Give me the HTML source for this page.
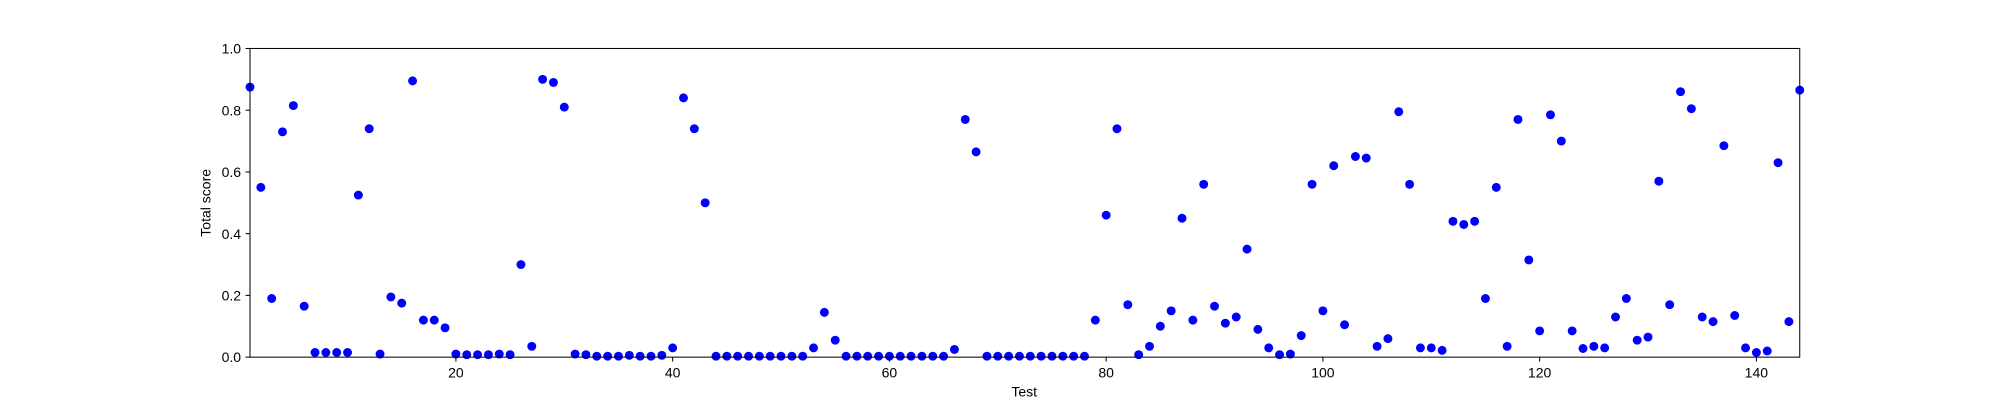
<!DOCTYPE html>
<html><head><meta charset="utf-8">
<style>
html,body{margin:0;padding:0;background:#fff;}
svg{display:block;font-family:"Liberation Sans","DejaVu Sans",sans-serif;}
</style></head>
<body>
<svg id="chart" width="2000" height="400" viewBox="0 0 1568 313.6" preserveAspectRatio="none" xmlns="http://www.w3.org/2000/svg">
<rect x="0" y="0" width="1568" height="313.6" fill="#fff"/>
<g id="points"></g>
<rect x="196" y="38" width="1215" height="242" fill="none" stroke="#000" stroke-width="0.8"/>
<g id="ticks"></g>
<text x="803" y="311" font-size="11" text-anchor="middle">Test</text>
<text x="165" y="159" font-size="11" text-anchor="middle" transform="rotate(-90 165 159)">Total score</text>
</svg>
<script>
const tests = Array.from({length:144},(_,i)=>i+1);
const scores = [0.875,0.55,0.19,0.73,0.815,0.165,0.015,0.015,0.015,0.015,
0.525,0.74,0.01,0.195,0.175,0.895,0.12,0.12,0.095,0.01,
0.008,0.008,0.008,0.01,0.008,0.30,0.035,0.9,0.89,0.81,
0.01,0.008,0.003,0.003,0.003,0.006,0.003,0.003,0.006,0.03,
0.84,0.74,0.5,0.003,0.003,0.003,0.003,0.003,0.003,0.003,
0.003,0.003,0.03,0.145,0.055,0.003,0.003,0.003,0.003,0.003,
0.003,0.003,0.003,0.003,0.003,0.025,0.77,0.665,0.003,0.003,
0.003,0.003,0.003,0.003,0.003,0.003,0.003,0.003,0.12,0.46,
0.74,0.17,0.008,0.035,0.1,0.15,0.45,0.12,0.56,0.165,
0.11,0.13,0.35,0.09,0.03,0.008,0.01,0.07,0.56,0.15,
0.62,0.105,0.65,0.645,0.035,0.06,0.795,0.56,0.03,0.03,
0.022,0.44,0.43,0.44,0.19,0.55,0.035,0.77,0.315,0.085,
0.785,0.70,0.085,0.028,0.035,0.03,0.13,0.19,0.055,0.065,
0.57,0.17,0.86,0.805,0.13,0.115,0.685,0.135,0.03,0.015,
0.02,0.63,0.115,0.865];
const xTicks = [20,40,60,80,100,120,140];
const yTicks = [0.0,0.2,0.4,0.6,0.8,1.0];
const X0=196,X1=1411,Y0=280,Y1=38, xmin=1,xmax=144;
const sx = v => X0 + (v-xmin)/(xmax-xmin)*(X1-X0);
const sy = v => Y0 - v*(Y0-Y1);
const NS="http://www.w3.org/2000/svg";
const pts=document.getElementById('points');
tests.forEach((t,i)=>{
  const c=document.createElementNS(NS,'circle');
  c.setAttribute('cx',sx(t));c.setAttribute('cy',sy(scores[i]));
  c.setAttribute('r',3.5);c.setAttribute('fill','#0000ff');
  
  
  pts.appendChild(c);
});
const tk=document.getElementById('ticks');
xTicks.forEach(v=>{
  const l=document.createElementNS(NS,'line');
  l.setAttribute('x1',sx(v));l.setAttribute('x2',sx(v));l.setAttribute('y1',280);l.setAttribute('y2',283.5);l.setAttribute('stroke','#000');l.setAttribute('stroke-width','0.8');
  
  
  tk.appendChild(l);
  const t=document.createElementNS(NS,'text');
  t.setAttribute('x',sx(v));t.setAttribute('y',296);t.setAttribute('font-size','11');t.setAttribute('text-anchor','middle');
  t.textContent=v;
  
  
  tk.appendChild(t);
});
yTicks.forEach(v=>{
  const l=document.createElementNS(NS,'line');
  l.setAttribute('x1',192.5);l.setAttribute('x2',196);l.setAttribute('y1',sy(v));l.setAttribute('y2',sy(v));l.setAttribute('stroke','#000');l.setAttribute('stroke-width','0.8');
  
  
  tk.appendChild(l);
  const t=document.createElementNS(NS,'text');
  t.setAttribute('x',189);t.setAttribute('y',sy(v)+4);t.setAttribute('font-size','11');t.setAttribute('text-anchor','end');
  t.textContent=v.toFixed(1);
  
  
  tk.appendChild(t);
});
</script>
</body></html>
